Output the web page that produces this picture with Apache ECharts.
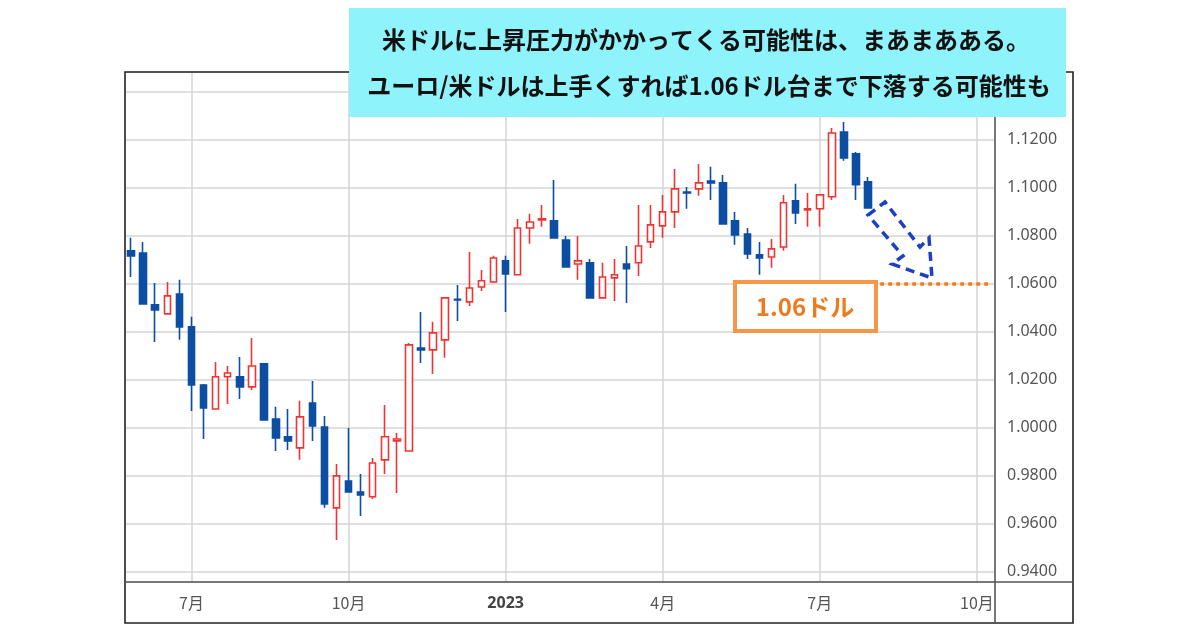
<!DOCTYPE html>
<html>
<head>
<meta charset="utf-8">
<script src="https://cdn.jsdelivr.net/npm/echarts@6/dist/echarts.min.js"></script>
<style>
  html, body { margin: 0; padding: 0; background: #fff; }
  #chart { width: 1200px; height: 630px; }
</style>
</head>
<body>
<div id="chart"></div>
<script>
// 週足の日付（カテゴリ）
let weeks = [
    '2022-05-30', '2022-06-06', '2022-06-13', '2022-06-20', '2022-06-27', '2022-07-04', '2022-07-11', '2022-07-18',
    '2022-07-25', '2022-08-01', '2022-08-08', '2022-08-15', '2022-08-22', '2022-08-29', '2022-09-05', '2022-09-12',
    '2022-09-19', '2022-09-26', '2022-10-03', '2022-10-10', '2022-10-17', '2022-10-24', '2022-10-31', '2022-11-07',
    '2022-11-14', '2022-11-21', '2022-11-28', '2022-12-05', '2022-12-12', '2022-12-19', '2022-12-26', '2023-01-02',
    '2023-01-09', '2023-01-16', '2023-01-23', '2023-01-30', '2023-02-06', '2023-02-13', '2023-02-20', '2023-02-27',
    '2023-03-06', '2023-03-13', '2023-03-20', '2023-03-27', '2023-04-03', '2023-04-10', '2023-04-17', '2023-04-24',
    '2023-05-01', '2023-05-08', '2023-05-15', '2023-05-22', '2023-05-29', '2023-06-05', '2023-06-12', '2023-06-19',
    '2023-06-26', '2023-07-03', '2023-07-10', '2023-07-17', '2023-07-24', '2023-07-31', '2023-08-07', '2023-08-14',
    '2023-08-21', '2023-08-28', '2023-09-04', '2023-09-11', '2023-09-18', '2023-09-25', '2023-10-02', '2023-10-09'
];

// 始値・終値・安値・高値
let opens = [
    1.0738, 1.0729, 1.0513, 1.0475, 1.0558, 1.0421, 1.0179, 1.0079, 1.0213, 1.0213, 1.0171, 1.0267, 1.0037, 0.9963, 0.9917, 1.0104,
    1.0004, 0.9667, 0.9779, 0.9733, 0.9713, 0.9867, 0.9946, 0.9904, 1.0333, 1.0325, 1.0367, 1.0536, 1.0525, 1.0587, 1.0608, 1.0696,
    1.0638, 1.0833, 1.0867, 1.0863, 1.0783, 1.0683, 1.0688, 1.0542, 1.0625, 1.0683, 1.0688, 1.0775, 1.0842, 1.0900, 1.0983, 1.0996,
    1.1029, 1.1021, 1.0863, 1.0808, 1.0721, 1.0712, 1.0754, 1.0946, 1.0908, 1.0913, 1.0963, 1.1233, 1.1142, 1.1025
];
let closes = [
    1.0717, 1.0517, 1.0492, 1.0550, 1.0421, 1.0179, 1.0083, 1.0213, 1.0229, 1.0171, 1.0258, 1.0033, 0.9958, 0.9946, 1.0046, 1.0008,
    0.9683, 0.9800, 0.9733, 0.9721, 0.9854, 0.9963, 0.9954, 1.0346, 1.0325, 1.0396, 1.0542, 1.0533, 1.0583, 1.0613, 1.0708, 1.0642,
    1.0833, 1.0858, 1.0871, 1.0792, 1.0671, 1.0696, 1.0542, 1.0629, 1.0638, 1.0663, 1.0758, 1.0846, 1.0900, 1.0996, 1.0979, 1.1021,
    1.1021, 1.0850, 1.0804, 1.0725, 1.0708, 1.0746, 1.0938, 1.0896, 1.0913, 1.0971, 1.1229, 1.1125, 1.1013, 1.0917
];
let lows = [
    1.0629, 1.0513, 1.0358, 1.0475, 1.0367, 1.0071, 0.9954, 1.0079, 1.0100, 1.0121, 1.0158, 1.0033, 0.9904, 0.9908, 0.9867, 0.9946,
    0.9667, 0.9533, 0.9733, 0.9633, 0.9704, 0.9808, 0.9729, 0.9904, 1.0271, 1.0225, 1.0292, 1.0446, 1.0508, 1.0571, 1.0604, 1.0483,
    1.0638, 1.0767, 1.0838, 1.0792, 1.0667, 1.0617, 1.0538, 1.0538, 1.0529, 1.0521, 1.0633, 1.0750, 1.0792, 1.0833, 1.0913, 1.0967,
    1.0950, 1.0850, 1.0763, 1.0704, 1.0638, 1.0667, 1.0738, 1.0850, 1.0838, 1.0838, 1.0950, 1.1113, 1.0950, 1.0917
];
let highs = [
    1.0792, 1.0775, 1.0604, 1.0608, 1.0617, 1.0463, 1.0183, 1.0275, 1.0258, 1.0296, 1.0375, 1.0271, 1.0088, 1.0079, 1.0113, 1.0196,
    1.0050, 0.9850, 1.0000, 0.9808, 0.9875, 1.0096, 0.9979, 1.0354, 1.0483, 1.0442, 1.0546, 1.0596, 1.0733, 1.0658, 1.0717, 1.0717,
    1.0871, 1.0892, 1.0929, 1.1033, 1.0800, 1.0800, 1.0704, 1.0688, 1.0704, 1.0758, 1.0929, 1.0929, 1.0971, 1.1079, 1.1004, 1.1100,
    1.1088, 1.1054, 1.0900, 1.0833, 1.0775, 1.0787, 1.0971, 1.1017, 1.0979, 1.0971, 1.1250, 1.1275, 1.1150, 1.1046
];

// 目盛りラベル
let tickWeeks = ['2022-07-04', '2022-10-03', '2023-01-02', '2023-04-03', '2023-07-03', '2023-10-02'];
let tickLabels = ['7月', '10月', '2023', '4月', '7月', '10月'];

// 目標水準
let targetLevel = 1.06;
let targetRange = ['2023-08-07', '2023-10-09'];

let candles = opens.map((o, i) => [o, closes[i], lows[i], highs[i]]);

let chart = echarts.init(document.getElementById('chart'));

let option = {
    backgroundColor: '#fff',
    animation: false,
    grid: { left: 125, right: 205, top: 72, bottom: 48 },
    xAxis: {
        type: 'category',
        data: weeks,
        boundaryGap: true,
        axisLine: { show: false },
        axisTick: { show: false },
        splitLine: { show: false },
        axisLabel: {
            interval: (idx, val) => tickWeeks.indexOf(val) >= 0,
            margin: 13,
            color: '#555',
            fontSize: 16,
            fontFamily: 'Noto Sans CJK JP',
            formatter: (val) => {
                let t = tickLabels[tickWeeks.indexOf(val)] || '';
                return /^\d{4}$/.test(t) ? '{y|' + t + '}' : t;
            },
            rich: {
                y: { fontSize: 16, fontWeight: 'bold', color: '#444', fontFamily: 'Noto Sans' }
            }
        }
    },
    yAxis: {
        type: 'value',
        position: 'right',
        scale: true,
        min: 0.9358,
        max: 1.1483,
        splitNumber: 10,
        axisLine: { show: false },
        axisTick: { show: false },
        splitLine: { lineStyle: { color: '#d4d4d4', width: 1.5 } },
        axisLabel: {
            showMinLabel: false,
            showMaxLabel: false,
            margin: 12,
            color: '#555',
            fontSize: 16,
            fontFamily: 'Noto Sans',
            formatter: (v) => v.toFixed(4)
        }
    },
    series: [
        {
            // 縦のグリッド線（ローソク足の下に描く）
            type: 'line',
            z: 1,
            data: [],
            markLine: {
                z: 1,
                silent: true,
                symbol: 'none',
                label: { show: false },
                lineStyle: { color: '#d4d4d4', width: 1.5, type: 'solid' },
                data: tickWeeks.map(w => ({ xAxis: w }))
            }
        },
        {
            type: 'candlestick',
            z: 3,
            data: candles,
            barWidth: 7,
            itemStyle: {
                color: '#ffffff',
                color0: '#0b4ea2',
                borderColor: '#f03434',
                borderColor0: '#0b4ea2',
                borderWidth: 1.6
            },
            markLine: {
                silent: true,
                symbol: 'none',
                label: { show: false },
                lineStyle: { color: '#f47c20', width: 3.5, type: [4, 4] },
                data: [[
                    { coord: [targetRange[0], targetLevel] },
                    { coord: [targetRange[1], targetLevel] }
                ]]
            }
        }
    ],
    graphic: [
        // 外枠
        {
            type: 'rect', z: 10, silent: true,
            shape: { x: 125, y: 72, width: 948, height: 551 },
            style: { fill: 'none', stroke: '#222', lineWidth: 1.6 }
        },
        {
            type: 'line', z: 10, silent: true,
            shape: { x1: 995, y1: 72, x2: 995, y2: 623 },
            style: { stroke: '#555', lineWidth: 1.6 }
        },
        {
            type: 'line', z: 10, silent: true,
            shape: { x1: 125, y1: 582, x2: 1073, y2: 582 },
            style: { stroke: '#555', lineWidth: 1.6 }
        },
        // タイトル
        {
            type: 'rect', z: 20, silent: true,
            shape: { x: 349, y: 8, width: 717, height: 109 },
            style: { fill: '#8ef3fb' }
        },
        {
            type: 'text', z: 21, silent: true,
            x: 706, y: 40,
            style: {
                text: '米ドルに上昇圧力がかかってくる可能性は、まあまあある。',
                font: 'bold 24px "Noto Sans CJK JP"',
                fill: '#111', align: 'center', verticalAlign: 'middle'
            }
        },
        {
            type: 'text', z: 21, silent: true,
            x: 709, y: 86,
            style: {
                text: 'ユーロ/米ドルは上手くすれば1.06ドル台まで下落する可能性も',
                font: 'bold 24px "Noto Sans CJK JP"',
                fill: '#111', align: 'center', verticalAlign: 'middle'
            }
        },
        // 1.06ドル ラベル
        {
            type: 'rect', z: 20, silent: true,
            shape: { x: 735, y: 282, width: 141, height: 49 },
            style: { fill: '#fff', stroke: '#f79646', lineWidth: 4 }
        },
        {
            type: 'text', z: 21, silent: true,
            x: 805, y: 307,
            style: {
                text: '1.06ドル',
                font: 'bold 24px "Noto Sans CJK JP"',
                fill: '#ee7a1f', align: 'center', verticalAlign: 'middle'
            }
        },
        // 下落の矢印
        {
            type: 'polygon', z: 20, silent: true,
            shape: {
                points: [[868, 215], [885, 202], [920, 247], [929, 238], [932, 278], [892, 264], [903, 256]]
            },
            style: { fill: 'none', stroke: '#1c3fc4', lineWidth: 3.5, lineDash: [9, 6] }
        }
    ]
};

chart.setOption(option);
</script>
</body>
</html>
